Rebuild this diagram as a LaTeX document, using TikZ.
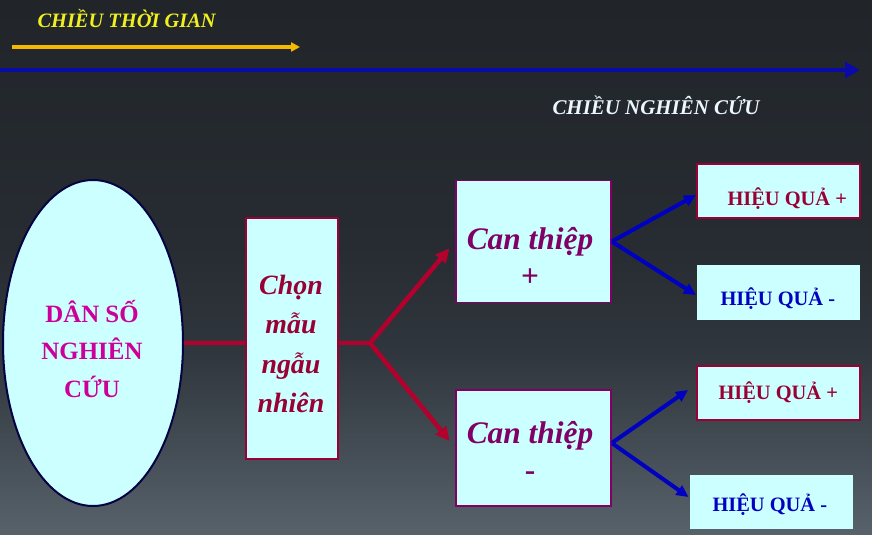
\documentclass[tikz,border=0pt]{standalone}
\usepackage{fontspec}
\setmainfont{Liberation Serif}
\usepackage{xcolor}
\usepackage{tikz}
\usetikzlibrary{positioning, arrows.meta, shapes.geometric}
\definecolor{bgA}{HTML}{21252A}
\definecolor{bgB}{HTML}{272C32}
\definecolor{bgC}{HTML}{30363D}
\definecolor{bgD}{HTML}{444D55}
\definecolor{bgE}{HTML}{58626B}
\definecolor{cFill}{HTML}{CCFFFF}
\definecolor{cRed}{HTML}{990033}
\definecolor{cArrowRed}{HTML}{B4002C}
\definecolor{cBlue}{HTML}{0000C0}
\definecolor{cNavy}{HTML}{0A0AA8}
\definecolor{cPurple}{HTML}{800066}
\definecolor{cMagenta}{HTML}{CC0099}
\definecolor{cYellow}{HTML}{F0F020}
\definecolor{cGold}{HTML}{F5B800}
\pgfdeclareverticalshading{slidebg}{100bp}{color(0bp)=(bgE); color(25bp)=(bgE); color(33bp)=(bgD);
  color(42bp)=(bgC); color(52bp)=(bgB); color(75bp)=(bgA); color(100bp)=(bgA)}
\tikzset{
  cbox/.style={draw, fill=cFill, minimum width=155bp, minimum height=122bp, inner sep=0pt, line width=1.5bp},
  hqbox/.style={fill=cFill, minimum width=163bp, minimum height=54bp, inner sep=0pt, line width=2bp},
  hqtext/.style={font=\fontsize{20.5}{22}\selectfont\bfseries, anchor=base west},
  ctext/.style={font=\fontsize{31.5}{38}\selectfont\bfseries\itshape, text=cPurple, align=center},
  redarrow/.style={cArrowRed, line width=4.5bp, -{Triangle[length=14bp,width=13bp]}},
  bluearrow/.style={cBlue, line width=4bp, -{Triangle[length=12bp,width=11bp]}}
}
\begin{document}
\begin{tikzpicture}[x=1bp, y=-1bp, >=Stealth]
  % background
  \shade[shading=slidebg] (0,0) rectangle (872,535);
  \useasboundingbox (0,0) rectangle (872,535);
  % time and study directions
  \node[font=\fontsize{20.5}{24}\selectfont\bfseries\itshape, text=cYellow, anchor=base west] (tlabel) at (34,28) {CHIỀU THỜI GIAN};
  \coordinate (t0) at (12,47); \coordinate (t1) at (300,47);
  \draw[cGold, line width=3.5bp, -{Triangle[length=9bp,width=9bp]}] (t0) -- (t1);
  \coordinate (s0) at (0,70); \coordinate (s1) at (860,70);
  \draw[cNavy, line width=4.5bp, -{Triangle[length=15bp,width=16bp]}] (s0) -- (s1);
  \node[font=\fontsize{21}{24}\selectfont\bfseries\itshape, text=white!92!cyan, anchor=base west] (slabel) at (549,115) {CHIỀU NGHIÊN CỨU};
  % population and sampling
  \node[ellipse, draw=cNavy!40!black, fill=cFill, line width=2bp, minimum width=180bp, minimum height=326bp, inner sep=0pt] (pop) at (93,343) {};
  \node[font=\fontsize{25}{37.5}\selectfont\bfseries, text=cMagenta, align=center] (poptext) at (92,349) {DÂN SỐ\\NGHIÊN\\CỨU};
  \node[draw=cRed, fill=cFill, line width=2.5bp, minimum width=92bp, minimum height=241bp, inner sep=0pt] (pick) at (292,338.5) {};
  \node[font=\fontsize{28}{39.5}\selectfont\bfseries\itshape, text=cRed, align=center] (picktext) at (291,344) {Chọn\\mẫu\\ngẫu\\nhiên};
  \draw[cArrowRed, line width=4.5bp] (pop.east |- 0,343) -- (pick.west |- 0,343);
  \coordinate (fork) at (370,343);
  \draw[cArrowRed, line width=4.5bp] (pick.east |- fork) -- (fork);
  % interventions
  \node[cbox, draw=cPurple] (canp) at (533.5,241.5) {};
  \node[ctext] (canptext) at (530,257) {Can thiệp\\\upshape+};
  \node[cbox, draw=cPurple, minimum height=116bp] (canm) at (533.5,448) {};
  \node[ctext] (canmtext) at (530,451) {Can thiệp\\\upshape-};
  \draw[redarrow, shorten >=9bp] (fork) -- (canp.west);
  \draw[redarrow, shorten >=9bp] (fork) -- (canm.west);
  % outcomes
  \node[hqbox, draw=cRed] (hq1) at (778.5,191) {};
  \node[hqtext, text=cRed] (hq1t) at (724,206) {HIỆU QUẢ +};
  \node[hqbox] (hq2) at (778.5,292.5) {};
  \node[hqtext, text=cBlue] (hq2t) at (717,306) {HIỆU QUẢ -};
  \node[hqbox, draw=cRed] (hq3) at (778.5,393) {};
  \node[hqtext, text=cRed] (hq3t) at (715,399) {HIỆU QUẢ +};
  \node[hqbox] (hq4) at (771,501.5) {};
  \node[hqtext, text=cBlue] (hq4t) at (709,511) {HIỆU QUẢ -};
  \draw[bluearrow] (canp.east) -- (hq1.west |- 0,195);
  \draw[bluearrow] (canp.east) -- (hq2.west |- 0,295);
  \draw[bluearrow] (canm.east |- 0,443) -- (688,390);
  \draw[bluearrow] (canm.east |- 0,443) -- (hq4.west |- 0,497);
\end{tikzpicture}
\end{document}
